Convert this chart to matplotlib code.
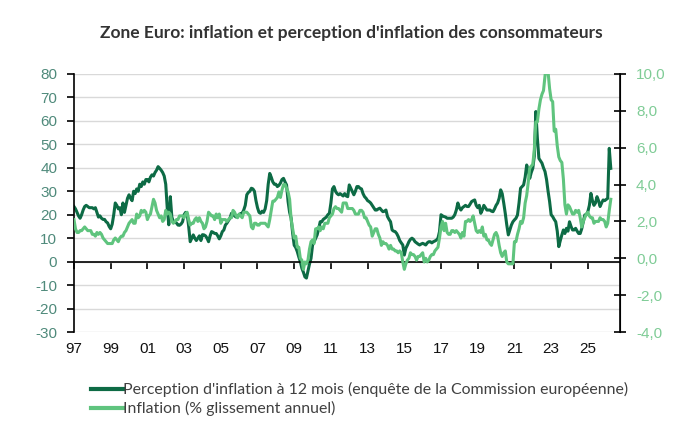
import matplotlib
matplotlib.use("Agg")
import matplotlib.pyplot as plt
import numpy as np
from matplotlib.lines import Line2D

plt.rcParams["axes.unicode_minus"] = False

# Perception d'inflation à 12 mois (solde, enquête CE), mensuel depuis janv. 1997
perception = [
    23.5, 22.5, 21.0, 19.5, 18.5, 20.0, 22.0, 23.5, 24.0, 23.5, 23.0, 23.0,  # 1997
    23.0, 22.5, 23.0, 21.0, 19.0, 19.5, 18.5, 18.0, 18.0, 17.0, 16.5, 15.0,  # 1998
    14.0, 16.0, 20.0, 25.0, 24.0, 22.5, 23.0, 20.0, 25.0, 21.0, 24.0, 27.0,  # 1999
    28.5, 27.0, 26.0, 30.0, 29.0, 31.0, 30.0, 33.0, 32.0, 34.0, 33.0, 35.0,  # 2000
    35.0, 34.0, 36.0, 37.0, 36.5, 38.0, 39.0, 40.5, 39.8, 39.0, 38.0, 36.5,  # 2001
    33.0, 22.7, 15.7, 27.7, 19.0, 17.0, 17.0, 16.5, 15.6, 15.5, 16.0, 17.0,  # 2002
    20.0, 21.0, 20.4, 15.0, 8.5, 10.0, 11.4, 10.0, 9.0, 10.0, 11.0, 9.0,  # 2003
    11.5, 11.4, 11.0, 10.0, 8.5, 11.0, 12.8, 12.5, 12.0, 12.0, 11.0, 9.7,  # 2004
    11.0, 12.8, 13.5, 15.6, 16.4, 17.5, 18.5, 20.6, 20.0, 19.5, 19.0, 19.5,  # 2005
    20.0, 20.5, 20.6, 22.0, 24.0, 28.5, 29.5, 30.0, 31.3, 31.0, 30.0, 26.0,  # 2006
    23.0, 21.0, 20.6, 21.5, 21.0, 22.5, 26.0, 33.0, 37.6, 36.0, 34.0, 33.0,  # 2007
    33.0, 32.0, 32.5, 33.5, 35.0, 35.5, 34.0, 32.7, 25.6, 21.0, 18.5, 12.0,  # 2008
    7.0, 6.0, 4.3, 2.0, 0.0, -2.8, -4.5, -6.5, -7.0, -4.0, -1.0, 1.4,  # 2009
    7.0, 8.5, 10.0, 11.4, 14.0, 17.0, 17.0, 18.0, 18.5, 19.0, 20.0, 20.6,  # 2010
    25.0, 31.0, 32.0, 30.0, 29.0, 28.5, 29.0, 28.5, 28.0, 29.0, 28.0, 27.7,  # 2011
    32.7, 31.3, 30.0, 28.5, 30.0, 32.0, 32.0, 31.3, 31.0, 29.0, 27.7, 27.0,  # 2012
    26.0, 25.6, 25.0, 24.0, 23.0, 22.0, 22.0, 22.5, 22.8, 22.0, 21.3, 21.5,  # 2013
    22.0, 19.2, 18.0, 17.0, 13.5, 13.0, 12.8, 12.0, 10.7, 9.0, 8.0, 7.1,  # 2014
    2.8, 5.7, 7.0, 8.5, 9.5, 10.0, 9.5, 8.5, 8.0, 7.5, 7.1, 7.5,  # 2015
    7.8, 7.5, 7.1, 8.0, 8.5, 8.5, 8.0, 8.5, 8.8, 9.2, 10.0, 12.8,  # 2016
    20.0, 19.5, 19.2, 19.0, 18.5, 18.5, 18.5, 18.5, 19.0, 20.0, 22.0, 25.0,  # 2017
    23.0, 22.0, 23.0, 23.5, 24.0, 23.5, 23.5, 24.5, 25.6, 26.0, 26.3, 24.0,  # 2018
    23.0, 24.0, 20.6, 22.0, 24.0, 23.0, 22.0, 22.0, 22.0, 21.5, 21.3, 22.5,  # 2019
    24.0, 25.0, 27.0, 30.6, 29.0, 25.0, 20.6, 15.6, 11.4, 13.5, 15.6, 17.0,  # 2020
    17.8, 18.5, 19.9, 25.0, 31.3, 32.0, 32.7, 36.0, 41.2, 39.0, 35.5, 38.0,  # 2021
    39.8, 45.0, 64.0, 52.6, 44.0, 43.0, 42.0, 40.0, 38.4, 35.0, 30.0, 25.6,  # 2022
    20.0, 19.2, 18.0, 17.0, 13.0, 6.4, 9.0, 11.4, 13.5, 12.0, 14.2, 13.0,  # 2023
    17.0, 15.0, 13.5, 13.5, 14.2, 13.0, 12.0, 12.0, 14.0, 17.0, 19.9, 20.0,  # 2024
    21.3, 24.0, 29.1, 26.0, 24.0, 25.0, 27.7, 26.0, 23.5, 25.0, 26.3, 26.0,  # 2025
    26.5, 27.0, 48.3, 39.8,  # 2026
]

# Inflation IPCH zone euro, % glissement annuel
inflation = [
    2.1, 1.6, 1.4, 1.4, 1.5, 1.5, 1.6, 1.7, 1.6, 1.5, 1.5, 1.5,  # 1997
    1.3, 1.3, 1.2, 1.4, 1.3, 1.4, 1.3, 1.1, 1.0, 0.9, 0.8, 0.8,  # 1998
    0.8, 0.8, 1.0, 1.1, 1.0, 0.9, 1.1, 1.2, 1.2, 1.4, 1.5, 1.7,  # 1999
    1.9, 2.0, 2.1, 1.9, 1.9, 2.4, 2.2, 2.3, 2.6, 2.5, 2.6, 2.5,  # 2000
    2.1, 2.3, 2.4, 2.8, 3.2, 3.0, 2.6, 2.4, 2.2, 2.3, 2.0, 2.1,  # 2001
    2.6, 2.4, 2.5, 2.4, 2.0, 1.9, 2.0, 2.1, 2.1, 2.3, 2.3, 2.3,  # 2002
    2.2, 2.4, 2.5, 2.1, 1.8, 1.9, 1.9, 2.1, 2.2, 2.0, 2.2, 2.0,  # 2003
    1.9, 1.6, 1.7, 2.0, 2.5, 2.4, 2.3, 2.3, 2.1, 2.4, 2.2, 2.4,  # 2004
    1.9, 2.1, 2.1, 2.1, 2.0, 2.1, 2.2, 2.2, 2.6, 2.5, 2.3, 2.2,  # 2005
    2.4, 2.3, 2.2, 2.5, 2.5, 2.5, 2.4, 2.3, 1.7, 1.6, 1.9, 1.9,  # 2006
    1.8, 1.8, 1.9, 1.9, 1.9, 1.9, 1.8, 1.7, 2.1, 2.6, 3.1, 3.1,  # 2007
    3.2, 3.3, 3.6, 3.3, 3.7, 4.0, 4.0, 3.8, 3.6, 3.2, 2.1, 1.6,  # 2008
    1.1, 1.2, 0.6, 0.6, 0.0, -0.1, -0.6, -0.2, -0.3, -0.1, 0.5, 0.9,  # 2009
    1.0, 0.8, 1.6, 1.6, 1.7, 1.5, 1.7, 1.6, 1.9, 1.9, 1.9, 2.2,  # 2010
    2.3, 2.4, 2.7, 2.8, 2.7, 2.7, 2.6, 2.5, 3.0, 3.0, 3.0, 2.7,  # 2011
    2.7, 2.7, 2.7, 2.6, 2.4, 2.4, 2.4, 2.6, 2.6, 2.5, 2.2, 2.2,  # 2012
    2.0, 1.8, 1.7, 1.2, 1.4, 1.6, 1.6, 1.3, 1.1, 0.7, 0.9, 0.8,  # 2013
    0.8, 0.7, 0.5, 0.7, 0.5, 0.5, 0.4, 0.4, 0.3, 0.4, 0.3, -0.2,  # 2014
    -0.6, -0.3, -0.1, 0.0, 0.3, 0.2, 0.2, 0.1, -0.1, 0.1, 0.1, 0.2,  # 2015
    0.3, -0.2, 0.0, -0.2, -0.1, 0.1, 0.2, 0.2, 0.4, 0.5, 0.6, 1.1,  # 2016
    1.7, 2.0, 1.5, 1.9, 1.4, 1.3, 1.3, 1.5, 1.5, 1.4, 1.5, 1.4,  # 2017
    1.3, 1.1, 1.4, 1.2, 2.0, 2.0, 2.1, 2.0, 2.1, 2.3, 1.9, 1.5,  # 2018
    1.4, 1.5, 1.4, 1.7, 1.2, 1.3, 1.0, 1.0, 0.8, 0.7, 1.0, 1.3,  # 2019
    1.4, 1.2, 0.7, 0.3, 0.1, 0.3, 0.4, -0.2, -0.3, -0.3, -0.3, -0.3,  # 2020
    0.9, 0.9, 1.3, 1.6, 2.0, 1.9, 2.2, 3.0, 3.4, 4.1, 4.9, 5.0,  # 2021
    5.1, 5.9, 7.4, 7.4, 8.1, 8.6, 8.9, 9.1, 9.9, 10.6, 10.1, 9.2,  # 2022
    8.6, 8.5, 6.9, 7.0, 6.1, 5.5, 5.3, 5.2, 4.3, 2.9, 2.4, 2.9,  # 2023
    2.8, 2.6, 2.4, 2.4, 2.6, 2.5, 2.6, 2.2, 1.7, 2.0, 2.2, 2.4,  # 2024
    2.5, 2.3, 2.2, 2.2, 1.9, 2.0, 2.0, 2.0, 2.2, 2.1, 2.1, 2.0,  # 2025
    1.7, 1.9, 2.6, 3.2,  # 2026
]

tick_years = list(range(1997, 2026, 2))
tick_labels = [f"{y % 100:02d}" for y in tick_years]

title = "Zone Euro: inflation et perception d'inflation des consommateurs"
label_perc = "Perception d'inflation à 12 mois (enquête de la Commission européenne)"
label_infl = "Inflation (% glissement annuel)"

dark = "#0d6b45"
light = "#5fc47e"

x = 1997 + np.arange(len(perception)) / 12

fig = plt.figure(figsize=(6.78, 4.46), dpi=100)
ax = fig.add_axes([0.1091, 0.2556, 0.8053, 0.5785])
ax2 = ax.twinx()

ax.plot(x, perception, color=dark, lw=2.2, solid_joinstyle="round")
ax2.plot(x, inflation, color=light, lw=2.2, solid_joinstyle="round")

ax.set_xlim(1997, 2026.75)
ax.set_ylim(-30, 80)
ax2.set_ylim(-4, 10)
ax.set_yticks(np.arange(-30, 81, 10))
ax2.set_yticks(np.arange(-4, 11, 2))
ax2.set_yticklabels([f"{v:.1f}".replace(".", ",") for v in np.arange(-4, 11, 2)])

ax.grid(axis="y", color="#d9d9d9", lw=1)
ax.set_axisbelow(True)

for a in (ax, ax2):
    a.spines["top"].set_visible(False)
ax.spines["bottom"].set_position(("data", 0))
ax.spines["bottom"].set_linewidth(1.2)
ax.spines["left"].set_linewidth(1.2)
ax2.spines["right"].set_linewidth(1.2)
ax2.spines["left"].set_visible(False)
ax2.spines["bottom"].set_visible(False)

ax.set_xticks(tick_years)
ax.tick_params(axis="x", direction="out", length=5, width=1.2, labelbottom=False)
ax.tick_params(axis="y", direction="out", length=5, width=1.2, pad=7,
               labelsize=11, labelcolor="#4f8a7b")
ax2.tick_params(axis="y", direction="inout", length=9, width=1.2, pad=7,
                labelsize=11, labelcolor="#7fcc96")

secax = ax.secondary_xaxis("bottom")
secax.set_xticks(tick_years)
secax.set_xticklabels(tick_labels)
secax.spines["bottom"].set_visible(False)
secax.tick_params(axis="x", length=0, pad=7, labelsize=11, labelcolor="#111111")

for t in ax.get_yticklabels() + ax2.get_yticklabels() + secax.get_xticklabels():
    t.set_fontfamily("Liberation Sans")

fig.text(0.518, 0.926, title, ha="center", va="center", fontsize=12.5,
         fontweight="bold", family="Lato", color="#333333")

handles = [Line2D([], [], color=dark, lw=3), Line2D([], [], color=light, lw=3)]
fig.legend(handles, [label_perc, label_infl], loc="upper left",
           bbox_to_anchor=(0.134, 0.143), frameon=False, borderpad=0,
           borderaxespad=0, handlelength=2.0, handletextpad=0,
           labelspacing=0.25, prop={"family": "Lato", "size": 11.4},
           labelcolor="#404040")

fig.savefig("out.png", dpi=100)
